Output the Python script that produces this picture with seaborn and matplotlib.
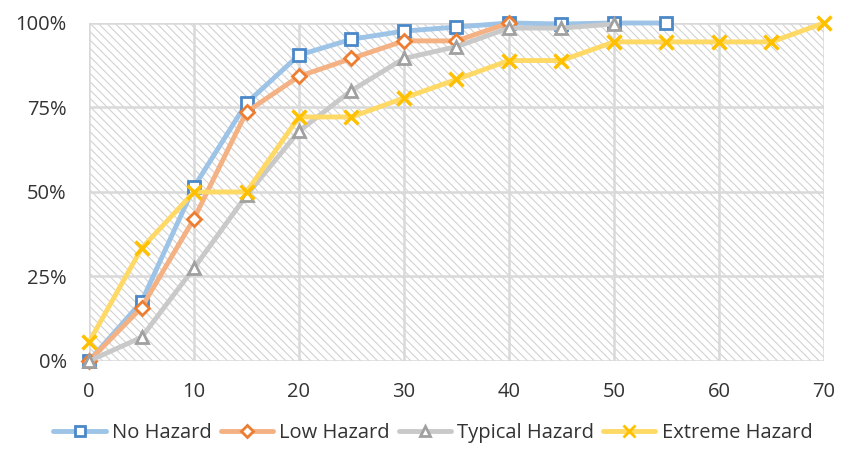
import matplotlib
matplotlib.use("Agg")
import matplotlib.pyplot as plt
from matplotlib.lines import Line2D
from matplotlib.patches import Rectangle
from matplotlib.ticker import FuncFormatter
import pandas as pd
import seaborn as sns

# Cumulative share of cases by minute, per hazard level
x_no = [0, 5, 10, 15, 20, 25, 30, 35, 40, 45, 50, 55]
no_hazard = [0.0, 0.175, 0.515, 0.763, 0.905, 0.952, 0.976, 0.988, 1.0, 0.997, 1.0, 1.0]

x_low = [0, 5, 10, 15, 20, 25, 30, 35, 40]
low_hazard = [0.0, 0.158, 0.421, 0.737, 0.842, 0.895, 0.947, 0.947, 1.0]

x_typ = [0, 5, 10, 15, 20, 25, 30, 35, 40, 45, 50]
typical_hazard = [0.0, 0.07, 0.275, 0.49, 0.68, 0.80, 0.895, 0.93, 0.985, 0.985, 0.997]

x_ext = [0, 5, 10, 15, 20, 25, 30, 35, 40, 45, 50, 55, 60, 65, 70]
extreme_hazard = [0.056, 0.333, 0.5, 0.5, 0.722, 0.722, 0.778, 0.833, 0.889, 0.889,
                  0.944, 0.944, 0.944, 0.944, 1.0]

series_names = ["No Hazard", "Low Hazard", "Typical Hazard", "Extreme Hazard"]
x_ticks = [0, 10, 20, 30, 40, 50, 60, 70]
y_ticks = [0, 0.25, 0.5, 0.75, 1.0]

frames = []
for name, xs, ys in zip(series_names, [x_no, x_low, x_typ, x_ext],
                        [no_hazard, low_hazard, typical_hazard, extreme_hazard]):
    frames.append(pd.DataFrame({"minute": xs, "share": ys, "series": name}))
df = pd.concat(frames, ignore_index=True)

styles = {
    "No Hazard": dict(line="#9dc3e6", edge="#4a88c8", marker="s", ms=9),
    "Low Hazard": dict(line="#f4b183", edge="#ed7d31", marker="D", ms=7.5),
    "Typical Hazard": dict(line="#c9c9c9", edge="#a0a0a0", marker="^", ms=9),
    "Extreme Hazard": dict(line="#ffd966", edge="#ffc000", marker="x", ms=10),
}

sns.set_theme(style="white")
plt.rcParams["font.family"] = ["Open Sans", "DejaVu Sans"]
plt.rcParams["hatch.linewidth"] = 0.8
plt.rcParams["hatch.color"] = "#d2d2d2"
text_color = "#333333"

fig = plt.figure(figsize=(8.52, 4.49), dpi=100)
ax = fig.add_axes([0.1045, 0.196, 0.8625, 0.7528])

# diagonal hatched plot background
ax.add_patch(Rectangle((0, 0), 1, 1, transform=ax.transAxes, facecolor="white",
                       edgecolor="#d2d2d2", hatch="\\\\\\\\", linewidth=0, zorder=0))

for name in series_names:
    st = styles[name]
    sub = df[df["series"] == name]
    is_x = st["marker"] == "x"
    sns.lineplot(data=sub, x="minute", y="share", ax=ax, color=st["line"],
                 linewidth=3.5, marker=st["marker"], markersize=st["ms"],
                 markerfacecolor=st["edge"] if is_x else "white",
                 markeredgecolor=st["edge"], markeredgewidth=2.5 if is_x else 2,
                 clip_on=False, zorder=3, legend=False)

ax.set_xlim(0, 70)
ax.set_ylim(0, 1)
ax.set_xticks(x_ticks)
ax.set_yticks(y_ticks)
ax.yaxis.set_major_formatter(FuncFormatter(lambda v, _: f"{v*100:.0f}%"))
ax.grid(True, color="#d9d9d9", linewidth=1.8, zorder=1)
ax.set_axisbelow(True)
for s in ax.spines.values():
    s.set_visible(False)
ax.set_xlabel("")
ax.set_ylabel("")
ax.tick_params(axis="both", labelsize=14.5, colors=text_color, length=0)
ax.tick_params(axis="y", pad=16)
ax.tick_params(axis="x", pad=15)

handles = []
for name in series_names:
    st = styles[name]
    is_x = st["marker"] == "x"
    handles.append(Line2D([0], [0], color=st["line"], linewidth=3.5, marker=st["marker"],
                          markersize=st["ms"] * 0.8,
                          markerfacecolor=st["edge"] if is_x else "white",
                          markeredgecolor=st["edge"], markeredgewidth=2))
fig.legend(handles, series_names, loc="center", bbox_to_anchor=(0.508, 0.035), ncol=4,
           frameon=False, fontsize=14.5, handlelength=2.6, handletextpad=0.3,
           columnspacing=0.45, labelcolor=text_color)

fig.savefig("out.png", dpi=100)
